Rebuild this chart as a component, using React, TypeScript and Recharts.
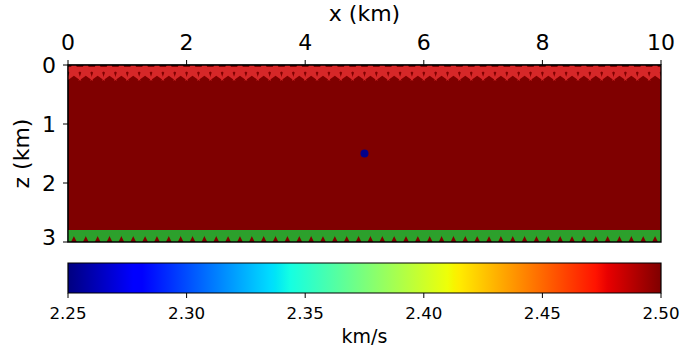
import {
  ScatterChart,
  Scatter,
  XAxis,
  YAxis,
  ReferenceArea,
  ComposedChart,
  Label,
} from "recharts";

// source positions (km)
const sourceX = [
  0.1, 0.3, 0.5, 0.7, 0.9, 1.1, 1.3, 1.5, 1.7, 1.9, 2.1, 2.3, 2.5, 2.7, 2.9,
  3.1, 3.3, 3.5, 3.7, 3.9, 4.1, 4.3, 4.5, 4.7, 4.9, 5.1, 5.3, 5.5, 5.7, 5.9,
  6.1, 6.3, 6.5, 6.7, 6.9, 7.1, 7.3, 7.5, 7.7, 7.9, 8.1, 8.3, 8.5, 8.7, 8.9,
  9.1, 9.3, 9.5, 9.7, 9.9,
];
const sourceZ = 0.1;

// receiver positions (km)
const receiverX = [
  0, 0.2, 0.4, 0.6, 0.8, 1.0, 1.2, 1.4, 1.6, 1.8, 2.0, 2.2, 2.4, 2.6, 2.8,
  3.0, 3.2, 3.4, 3.6, 3.8, 4.0, 4.2, 4.4, 4.6, 4.8, 5.0, 5.2, 5.4, 5.6, 5.8,
  6.0, 6.2, 6.4, 6.6, 6.8, 7.0, 7.2, 7.4, 7.6, 7.8, 8.0, 8.2, 8.4, 8.6, 8.8,
  9.0, 9.2, 9.4, 9.6, 9.8, 10.0,
];
const receiverZ = 2.95;

// point scatterer
const pointX = [5.0];
const pointZ = [1.5];

const xTicks = [0, 2, 4, 6, 8, 10];
const zTicks = [0, 1, 2, 3];
const modelWidth = 10;
const modelDepth = 3;

// velocity model (km/s), uniform at the top of the colour range
const velocity = 2.5;
const vMin = 2.25;
const vMax = 2.5;
const cbarTicks = [2.25, 2.3, 2.35, 2.4, 2.45, 2.5];

const sources = sourceX.map((x) => ({ x, z: sourceZ }));
const receivers = receiverX.map((x) => ({ x, z: receiverZ }));
const points = pointX.map((x, i) => ({ x, z: pointZ[i] }));
const cbarData = [
  { v: vMin, y: 0 },
  { v: vMax, y: 1 },
];

// jet colormap stops
const JET: [number, string][] = [
  [0, "#000080"],
  [0.11, "#0000ff"],
  [0.125, "#0000ff"],
  [0.34, "#00dbff"],
  [0.35, "#00e5f7"],
  [0.375, "#15ffe2"],
  [0.64, "#eeff08"],
  [0.65, "#f7f500"],
  [0.66, "#ffec00"],
  [0.89, "#ff1300"],
  [0.91, "#e80000"],
  [1, "#7f0000"],
];

function jetColor(v: number) {
  const t = Math.min(1, Math.max(0, (v - vMin) / (vMax - vMin)));
  let c = JET[0][1];
  for (const [o, col] of JET) if (t >= o) c = col;
  return c;
}

const Star = (props: any) => {
  const { cx, cy } = props;
  const R = 12.5;
  const r = R * 0.381966;
  const pts: string[] = [];
  for (let i = 0; i < 10; i++) {
    const a = -Math.PI / 2 + (i * Math.PI) / 5;
    const rad = i % 2 === 0 ? R : r;
    pts.push(`${cx + rad * Math.cos(a)},${cy + rad * Math.sin(a)}`);
  }
  return <polygon points={pts.join(" ")} fill="#d62728" />;
};

const TriDown = (props: any) => {
  const { cx, cy } = props;
  const s = 9;
  return (
    <polygon
      points={`${cx - s},${cy - s} ${cx + s},${cy - s} ${cx},${cy + s}`}
      fill="#2ca02c"
    />
  );
};

const Dot = (props: any) => {
  const { cx, cy } = props;
  return <circle cx={cx} cy={cy} r={4} fill="#00008b" />;
};

const tickStyle = { fill: "#000", fontSize: 22 };

export default function App() {
  return (
    <div
      style={{
        position: "absolute",
        left: 0,
        top: 0,
        width: 686,
        height: 349,
        background: "#fff",
        fontFamily: "'DejaVu Sans', sans-serif",
      }}
    >
      <ScatterChart
        width={686}
        height={250}
        margin={{ top: 0, right: 25, bottom: 8, left: 0 }}
      >
        <XAxis
          dataKey="x"
          type="number"
          orientation="top"
          domain={[0, modelWidth]}
          ticks={xTicks}
          allowDataOverflow
          height={65}
          tick={tickStyle}
          tickSize={5}
          tickMargin={10}
          stroke="#000"
        >
          <Label
            value="x (km)"
            position="insideTop"
            offset={5}
            style={{ fill: "#000", fontSize: 22 }}
          />
        </XAxis>
        <YAxis
          dataKey="z"
          type="number"
          reversed
          domain={[0, modelDepth]}
          ticks={zTicks}
          allowDataOverflow
          width={68}
          tick={tickStyle}
          tickSize={5}
          tickMargin={7}
          stroke="#000"
        >
          <Label
            value="z (km)"
            angle={-90}
            position="insideLeft"
            offset={21}
            style={{ fill: "#000", fontSize: 22, textAnchor: "middle" }}
          />
        </YAxis>
        <ReferenceArea
          x1={0}
          x2={modelWidth}
          y1={0}
          y2={modelDepth}
          fill={jetColor(velocity)}
          fillOpacity={1}
          stroke="none"
        />
        <Scatter data={sources} shape={Star} isAnimationActive={false} />
        <Scatter data={receivers} shape={TriDown} isAnimationActive={false} />
        <Scatter data={points} shape={Dot} isAnimationActive={false} />
        {/* frame on top of the markers */}
        <ReferenceArea
          x1={0}
          x2={modelWidth}
          y1={0}
          y2={modelDepth}
          fill="none"
          stroke="#000"
          strokeWidth={1.3}
          zIndex={1000}
        />
      </ScatterChart>

      <ComposedChart
        width={686}
        height={99}
        data={cbarData}
        margin={{ top: 13, right: 25, bottom: 0, left: 68 }}
      >
        <defs>
          <linearGradient id="jet" x1="0" y1="0" x2="1" y2="0">
            {JET.map(([o, c]) => (
              <stop key={o} offset={o} stopColor={c} />
            ))}
          </linearGradient>
        </defs>
        <XAxis
          type="number"
          dataKey="v"
          domain={[vMin, vMax]}
          ticks={cbarTicks}
          allowDataOverflow
          height={56}
          axisLine={false}
          tick={{ fill: "#000", fontSize: 16.7 }}
          tickSize={5}
          tickMargin={9}
          stroke="#000"
          tickFormatter={(v: number) => v.toFixed(2)}
        >
          <Label
            value="km/s"
            position="insideBottom"
            offset={6}
            style={{ fill: "#000", fontSize: 19 }}
          />
        </XAxis>
        <YAxis hide type="number" dataKey="y" domain={[0, 1]} />
        <ReferenceArea
          x1={vMin}
          x2={vMax}
          y1={0}
          y2={1}
          ifOverflow="visible"
          fill="url(#jet)"
          fillOpacity={1}
          stroke="#000"
          strokeWidth={1.2}
        />
      </ComposedChart>
    </div>
  );
}
